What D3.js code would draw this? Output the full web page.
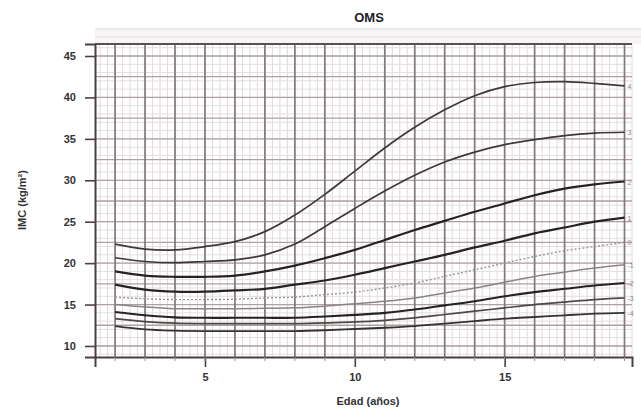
<!DOCTYPE html>
<html>
<head>
<meta charset="utf-8">
<script src="https://cdn.jsdelivr.net/npm/d3@7"></script>
<style>
  body { margin: 0; background: #fff; }
  text { font-family: "Liberation Sans", Arial, sans-serif; }
</style>
</head>
<body>
<script>
var ages = [2, 3, 4, 5, 6, 7, 8, 9, 10, 11, 12, 13, 14, 15, 16, 17, 18, 19];

// Reference curves, top to bottom (IMC kg/m2)
var curveP4  = [22.3, 21.7, 21.6, 22.0, 22.6, 23.8, 25.8, 28.3, 31.1, 33.9, 36.4, 38.5, 40.2, 41.3, 41.8, 41.9, 41.7, 41.4];
var curveP3  = [20.65, 20.2, 20.05, 20.2, 20.4, 21.0, 22.3, 24.4, 26.6, 28.7, 30.6, 32.2, 33.4, 34.3, 34.9, 35.4, 35.7, 35.8];
var curveP2  = [19.0, 18.5, 18.35, 18.35, 18.5, 19.0, 19.7, 20.6, 21.6, 22.8, 24.0, 25.1, 26.2, 27.2, 28.2, 29.0, 29.5, 29.85];
var curveP1  = [17.4, 16.8, 16.55, 16.55, 16.7, 16.9, 17.4, 17.9, 18.6, 19.4, 20.2, 21.0, 21.9, 22.7, 23.6, 24.3, 25.0, 25.5];
var curve0   = [15.9, 15.7, 15.6, 15.6, 15.65, 15.8, 15.9, 16.2, 16.5, 17.0, 17.6, 18.4, 19.2, 20.0, 20.8, 21.5, 22.0, 22.5];
var curveM1  = [15.0, 14.7, 14.5, 14.5, 14.5, 14.55, 14.6, 14.8, 15.1, 15.4, 15.8, 16.4, 17.0, 17.7, 18.4, 18.9, 19.4, 19.8];
var curveM2  = [14.1, 13.7, 13.45, 13.4, 13.4, 13.4, 13.4, 13.55, 13.75, 14.0, 14.4, 14.9, 15.4, 16.0, 16.5, 16.9, 17.3, 17.6];
var curveM3  = [13.3, 12.95, 12.75, 12.7, 12.7, 12.7, 12.7, 12.8, 12.9, 13.1, 13.4, 13.8, 14.2, 14.6, 15.0, 15.3, 15.6, 15.8];
var curveM4  = [12.4, 12.0, 11.85, 11.8, 11.8, 11.8, 11.8, 11.9, 12.05, 12.2, 12.4, 12.7, 13.0, 13.3, 13.5, 13.7, 13.9, 14.0];

var curveNames = ["4", "3", "2", "1", "0", "-1", "-2", "-3", "-4"];

// Tick labels
var yTicks = [10, 15, 20, 25, 30, 35, 40, 45];
var xTicks = [5, 10, 15];

var series = [curveP4, curveP3, curveP2, curveP1, curve0, curveM1, curveM2, curveM3, curveM4];
var lineStyles = [
  { color: "#3e3838", width: 1.7, dash: null },
  { color: "#3e3838", width: 1.7, dash: null },
  { color: "#262222", width: 2.2, dash: null },
  { color: "#262222", width: 2.2, dash: null },
  { color: "#9a9494", width: 1.4, dash: "2,2" },
  { color: "#8a8484", width: 1.5, dash: null },
  { color: "#262222", width: 2.1, dash: null },
  { color: "#4e4848", width: 1.7, dash: null },
  { color: "#363232", width: 1.8, dash: null }
];

var svgWidth = 641;
var svgHeight = 408;

var chartMargin = { top: 44, right: 9, bottom: 51, left: 95 };

var chartWidth = svgWidth - chartMargin.left - chartMargin.right;
var chartHeight = svgHeight - chartMargin.top - chartMargin.bottom;

var svg = d3.select("body")
  .append("svg")
  .attr("width", svgWidth)
  .attr("height", svgHeight);

// title
svg.append("text")
  .attr("x", 369)
  .attr("y", 22)
  .attr("text-anchor", "middle")
  .attr("font-size", 13)
  .attr("font-weight", "bold")
  .attr("fill", "#222")
  .text("OMS");

// header strip above the panel
svg.append("rect")
  .attr("x", chartMargin.left)
  .attr("y", 28)
  .attr("width", svgWidth - chartMargin.left)
  .attr("height", chartMargin.top - 28)
  .attr("fill", "#f6f4f4");
svg.append("line")
  .attr("x1", chartMargin.left).attr("x2", svgWidth)
  .attr("y1", 29).attr("y2", 29)
  .attr("stroke", "#e2dede");
svg.append("line")
  .attr("x1", chartMargin.left).attr("x2", svgWidth)
  .attr("y1", 37).attr("y2", 37)
  .attr("stroke", "#e6e2e2");

var chartGroup = svg.append("g")
  .attr("transform", `translate(${chartMargin.left}, ${chartMargin.top})`);

var xScale = d3.scaleLinear()
  .domain([1.33, 19.25])
  .range([0, chartWidth]);

var yScale = d3.scaleLinear()
  .domain([8.67, 46.45])
  .range([chartHeight, 0]);

// grid: minor then major
var minorX = d3.range(1.5, 19.26, 0.25);
chartGroup.selectAll(".vminor")
  .data(minorX)
  .enter()
  .append("line")
  .attr("class", "vminor")
  .attr("x1", d => xScale(d)).attr("x2", d => xScale(d))
  .attr("y1", 0).attr("y2", chartHeight)
  .attr("stroke", "#e0dada")
  .attr("stroke-width", 1);

var minorY = d3.range(9, 46.1, 1);
chartGroup.selectAll(".hminor")
  .data(minorY)
  .enter()
  .append("line")
  .attr("class", "hminor")
  .attr("x1", 0).attr("x2", chartWidth)
  .attr("y1", d => yScale(d)).attr("y2", d => yScale(d))
  .attr("stroke", "#e4dede")
  .attr("stroke-width", 1);

var midY = d3.range(10, 46, 2.5);
chartGroup.selectAll(".hmid")
  .data(midY)
  .enter()
  .append("line")
  .attr("class", "hmid")
  .attr("x1", 0).attr("x2", chartWidth)
  .attr("y1", d => yScale(d)).attr("y2", d => yScale(d))
  .attr("stroke", "#aca2a2")
  .attr("stroke-width", 1.3);

var majorX = d3.range(2, 19.5, 1);
chartGroup.selectAll(".vmajor")
  .data(majorX)
  .enter()
  .append("line")
  .attr("class", "vmajor")
  .attr("x1", d => xScale(d)).attr("x2", d => xScale(d))
  .attr("y1", 0).attr("y2", chartHeight)
  .attr("stroke", "#847878")
  .attr("stroke-width", 1.7);

// curves
var line = d3.line()
  .x((d, i) => xScale(ages[i]))
  .y(d => yScale(d))
  .curve(d3.curveCatmullRom.alpha(0.5));

chartGroup.selectAll(".curve")
  .data(series)
  .enter()
  .append("path")
  .attr("class", "curve")
  .attr("fill", "none")
  .attr("d", d => line(d))
  .attr("stroke", (d, i) => lineStyles[i].color)
  .attr("stroke-width", (d, i) => lineStyles[i].width)
  .attr("stroke-dasharray", (d, i) => lineStyles[i].dash);

// curve labels at the right end
chartGroup.selectAll(".clabel")
  .data(series)
  .enter()
  .append("text")
  .attr("class", "clabel")
  .attr("x", xScale(19) + 3)
  .attr("y", d => yScale(d[d.length - 1]) + 3)
  .attr("font-size", 7)
  .attr("fill", "#8a8282")
  .text((d, i) => curveNames[i]);

// frame
chartGroup.append("line")
  .attr("x1", 0).attr("x2", chartWidth)
  .attr("y1", 0).attr("y2", 0)
  .attr("stroke", "#5a5050").attr("stroke-width", 2);

var leftAxis = d3.axisLeft(yScale)
  .tickValues(yTicks)
  .tickSize(10)
  .tickPadding(9);

var bottomAxis = d3.axisBottom(xScale)
  .tickValues(xTicks)
  .tickSize(10)
  .tickPadding(6);

var yAxisG = chartGroup.append("g")
  .call(leftAxis);

var xAxisG = chartGroup.append("g")
  .attr("transform", `translate(0, ${chartHeight})`)
  .call(bottomAxis);

[yAxisG, xAxisG].forEach(function(g) {
  g.select(".domain").attr("stroke", "#4a4040").attr("stroke-width", 2);
  g.selectAll(".tick line").attr("stroke", "#4a4040").attr("stroke-width", 1.6);
  g.selectAll(".tick text")
    .attr("font-size", 11)
    .attr("font-weight", "bold")
    .attr("fill", "#333");
});

// small year marks under the x axis
chartGroup.selectAll(".yearmark")
  .data(majorX)
  .enter()
  .append("line")
  .attr("class", "yearmark")
  .attr("x1", d => xScale(d)).attr("x2", d => xScale(d))
  .attr("y1", chartHeight).attr("y2", chartHeight + 4)
  .attr("stroke", "#9a9090");

// axis titles
svg.append("text")
  .attr("transform", "translate(26, 200) rotate(-90)")
  .attr("text-anchor", "middle")
  .attr("font-size", 11)
  .attr("font-weight", "bold")
  .attr("fill", "#333")
  .text("IMC (kg/m²)");

svg.append("text")
  .attr("x", 368)
  .attr("y", 405)
  .attr("text-anchor", "middle")
  .attr("font-size", 11)
  .attr("font-weight", "bold")
  .attr("fill", "#333")
  .text("Edad (años)");
</script>
</body>
</html>
